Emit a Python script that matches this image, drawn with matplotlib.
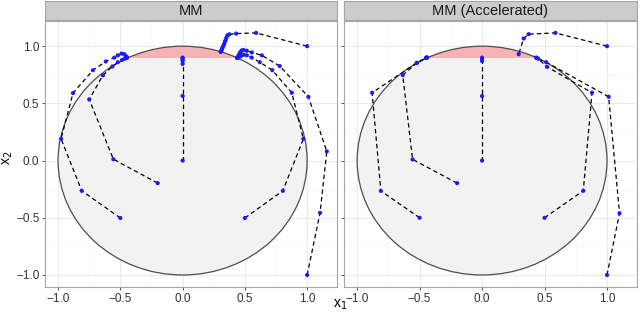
import matplotlib
matplotlib.use("Agg")
import matplotlib.pyplot as plt
from matplotlib.patches import Circle, Rectangle

plt.rcParams['font.family'] = ['Liberation Sans', 'DejaVu Sans']

# MM (plain) iterate paths, x1 and x2 coordinates
mm_paths = [
    ([0.0, 0.0, 0.0, 0.0, 0.0, 0.0, 0.0],
     [0.0, 0.565, 0.845, 0.872, 0.886, 0.895, 0.9]),
    ([-0.2, -0.556, -0.75, -0.64, -0.564, -0.52, -0.485, -0.462, -0.452, -0.446],
     [-0.197, 0.012, 0.535, 0.745, 0.823, 0.86, 0.88, 0.892, 0.897, 0.899]),
    ([-0.5, -0.81, -0.976, -0.88, -0.72, -0.617, -0.548, -0.52, -0.49, -0.468, -0.457, -0.45, -0.446],
     [-0.502, -0.264, 0.19, 0.59, 0.79, 0.866, 0.90, 0.92, 0.935, 0.93, 0.915, 0.905, 0.899]),
    ([0.5, 0.805, 0.97, 0.877, 0.72, 0.62, 0.555, 0.516, 0.49, 0.47, 0.455, 0.445, 0.438],
     [-0.502, -0.264, 0.19, 0.593, 0.79, 0.86, 0.90, 0.92, 0.925, 0.915, 0.905, 0.898, 0.897]),
    ([1.0, 1.104, 1.158, 1.01, 0.78, 0.636, 0.556, 0.516, 0.49, 0.475, 0.465, 0.458, 0.45, 0.445, 0.44, 0.437],
     [-1.0, -0.457, 0.08, 0.558, 0.826, 0.92, 0.945, 0.96, 0.966, 0.963, 0.95, 0.935, 0.92, 0.91, 0.90, 0.898]),
    ([1.0, 0.59, 0.43, 0.376, 0.36, 0.352, 0.346, 0.34, 0.334, 0.328, 0.322, 0.317, 0.313, 0.31, 0.307, 0.306],
     [1.0, 1.116, 1.11, 1.104, 1.095, 1.075, 1.055, 1.04, 1.02, 1.005, 0.99, 0.977, 0.966, 0.958, 0.952, 0.95]),
]

# MM (Accelerated) iterate paths
acc_paths = [
    ([0.0, 0.0, 0.0, 0.0, 0.0],
     [0.0, 0.564, 0.87, 0.89, 0.9]),
    ([-0.2, -0.556, -0.635, -0.52, -0.445, -0.44],
     [-0.197, 0.01, 0.747, 0.855, 0.9, 0.901]),
    ([-0.5, -0.81, -0.88, -0.525, -0.45, -0.442],
     [-0.5, -0.265, 0.593, 0.852, 0.897, 0.9]),
    ([0.5, 0.81, 0.88, 0.519, 0.45, 0.435],
     [-0.5, -0.264, 0.593, 0.82, 0.89, 0.898]),
    ([1.0, 1.10, 1.013, 0.513, 0.44, 0.433],
     [-1.0, -0.46, 0.558, 0.86, 0.895, 0.9]),
    ([1.0, 0.587, 0.373, 0.333, 0.293],
     [1.0, 1.116, 1.105, 1.067, 0.93]),
]

panel_titles = ["MM", "MM (Accelerated)"]
tick_values = [-1.0, -0.5, 0.0, 0.5, 1.0]
tick_labels = ["\u22121.0", "\u22120.5", "0.0", "0.5", "1.0"]
minor_values = [-0.75, -0.25, 0.25, 0.75]
cap_level = 0.9

W, H = 640, 314
fig = plt.figure(figsize=(W / 100, H / 100), dpi=100)

panel_left = [45, 344]
panel_width = [292, 293]
top_px, bottom_px = 21, 287

for i in range(2):
    x0 = panel_left[i]
    ax = fig.add_axes([x0 / W, 1 - bottom_px / H, panel_width[i] / W, (bottom_px - top_px) / H])
    ax.set_xlim(-1.105, 1.24)
    ax.set_ylim(-1.105, 1.22)

    ax.set_xticks(tick_values)
    ax.set_xticklabels(tick_labels)
    ax.set_yticks(tick_values)
    ax.set_yticks(minor_values, minor=True)
    ax.set_xticks(minor_values, minor=True)
    if i == 0:
        ax.set_yticklabels(tick_labels)
    else:
        ax.set_yticklabels([])
        ax.tick_params(axis='y', which='major', length=0)
    ax.tick_params(which='major', length=2.5, width=0.6, color='#333333',
                   labelsize=8.5, labelcolor='#333333', pad=1.5)
    ax.tick_params(which='minor', length=0)
    ax.grid(True, which='major', color='#EBEBEB', linewidth=0.8)
    ax.grid(True, which='minor', color='#F4F4F4', linewidth=0.5)
    ax.set_axisbelow(True)
    for s in ax.spines.values():
        s.set_color('#A6A6A6')
        s.set_linewidth(0.8)

    ax.add_patch(Circle((0, 0), 1, facecolor='#F2F2F2', edgecolor='none', zorder=1))
    cap = Circle((0, 0), 1, facecolor='#F6B3B3', edgecolor='none', zorder=1.5)
    ax.add_patch(cap)
    clip = Rectangle((-1.2, cap_level), 2.4, 0.5, transform=ax.transData)
    cap.set_clip_path(clip)
    ax.add_patch(Circle((0, 0), 1, facecolor='none', edgecolor='#4D4D4D', linewidth=0.9, zorder=2))

    paths = mm_paths if i == 0 else acc_paths
    for px, py in paths:
        ax.plot(px, py, color='black', linestyle=(0, (3.5, 2.5)), linewidth=0.9, zorder=3)
        ax.scatter(px, py, s=9, color='#1A1AFF', edgecolors='none', zorder=4)

    sax = fig.add_axes([x0 / W, 1 - 20 / H, panel_width[i] / W, 19 / H])
    sax.set_xticks([])
    sax.set_yticks([])
    sax.set_facecolor('#CCCCCC')
    for s in sax.spines.values():
        s.set_color('#A6A6A6')
        s.set_linewidth(0.8)
    sax.text(0.5, 0.45, panel_titles[i], ha='center', va='center', fontsize=10.5,
             color='#1A1A1A', transform=sax.transAxes)

fig.text(340 / W, 1 - 305 / H, "x$_1$", ha='center', va='center', fontsize=10, color='black')
fig.text(8 / W, 1 - 158 / H, "x$_2$", ha='center', va='center', fontsize=10, rotation=90, color='black')

fig.savefig("out.png", dpi=100)
